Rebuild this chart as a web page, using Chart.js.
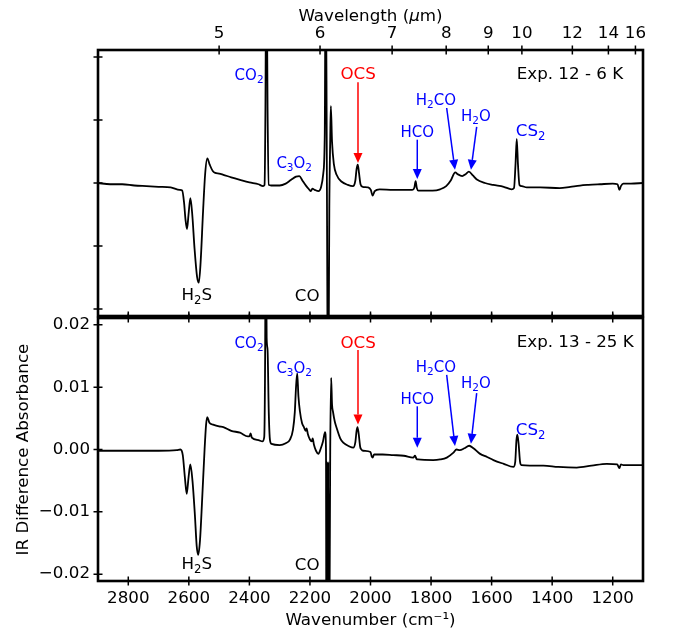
<!DOCTYPE html>
<html><head><meta charset="utf-8">
<script src="https://cdn.jsdelivr.net/npm/chart.js@4/dist/chart.umd.min.js"></script>
<style>
html,body{margin:0;padding:0;background:#fff;}
#wrap{position:relative;width:673px;height:635px;overflow:hidden;}
#cTop{position:absolute;left:0;top:0;}
#cBot{position:absolute;left:0;top:300px;}
</style></head><body>
<div id="wrap"><canvas id="cBot" width="673" height="335"></canvas><canvas id="cTop" width="673" height="318"></canvas></div>
<script>
// ---------------- data ----------------
const topWavenumber = [2900,2860,2820,2780,2740,2700,2660,2630,2622,2616,2611,2606,2601,2595,2589,2581,2573,2567,2561,2553,2546,2539,2531,2521,2513,2500,2486,2460,2431,2400,2370,2355,2350,2347,2344,2340,2336,2328,2300,2280,2262,2246,2235,2225,2212,2203,2197,2192,2184,2172,2163,2156,2151,2148,2144,2140,2136,2133,2131,2127,2121,2112,2095,2075,2058,2050,2046,2042,2038,2033,2026,2008,1999,1993,1986,1970,1925,1862,1855,1851,1847,1842,1795,1770,1750,1735,1720,1712,1697,1686,1675,1662,1650,1622,1595,1560,1534,1526,1521,1517,1513,1508,1500,1484,1440,1375,1340,1308,1280,1242,1200,1184,1178,1173,1165,1140,1100];
const topAbsorbance = [0.0000,-0.0002,-0.0002,-0.0004,-0.0005,-0.0006,-0.0007,-0.0011,-0.0012,-0.0030,-0.0058,-0.0073,-0.0050,-0.0024,-0.0048,-0.0105,-0.0148,-0.0158,-0.0125,-0.0045,0.0015,0.0039,0.0029,0.0019,0.0016,0.0015,0.0013,0.0009,0.0005,0.0001,-0.0002,-0.0005,-0.0003,0.012,0.04,0.012,-0.0003,-0.0004,-0.0004,-0.0001,0.0005,0.0010,0.0011,0.0004,-0.0005,-0.0010,-0.0013,-0.0009,-0.0011,-0.0013,-0.0006,0.0015,0.008,0.04,0.0,-0.04,-0.004,0.007,0.0122,0.0065,0.0030,0.0013,0.0002,-0.0003,-0.0005,0.0004,0.0022,0.0029,0.0016,-0.0002,-0.0006,-0.0007,-0.0011,-0.0020,-0.0013,-0.0010,-0.0011,-0.0011,-0.0007,0.0003,-0.0008,-0.0012,-0.0012,-0.0010,-0.0005,0.0004,0.0017,0.0014,0.0011,0.0014,0.0018,0.0012,0.0006,0.0000,-0.0003,-0.0006,-0.0010,-0.0008,0.0030,0.0070,0.0030,-0.0003,-0.0005,-0.0007,-0.0007,-0.0008,-0.0006,-0.0004,-0.0003,-0.0002,-0.0001,-0.0002,-0.0011,-0.0005,-0.0001,-0.0001,0.0000];

const bottomWavenumber = [2900,2800,2700,2640,2628,2620,2613,2607,2601,2595,2588,2580,2574,2569,2563,2556,2548,2543,2539,2532,2520,2500,2486,2460,2431,2405,2400,2396,2392,2370,2357,2351,2348,2346,2343,2340,2336,2332,2327,2300,2280,2266,2256,2250,2246,2242,2238,2233,2226,2220,2214,2211,2207,2200,2194,2191,2187,2180,2172,2164,2157,2150,2147,2145.5,2143.5,2141.5,2139.5,2137,2133,2130,2127,2124,2118,2112,2100,2090,2070,2057,2050,2046,2043,2039,2034,2030,2024,2000,1996,1993,1988,1960,1925,1890,1859,1853,1848,1843,1793,1770,1748,1726,1716,1705,1690,1674,1660,1638,1615,1594,1560,1528,1522,1518,1515,1511,1506,1502,1429,1380,1319,1270,1220,1185,1178,1173,1165,1130,1100];
const bottomAbsorbance = [-0.0002,-0.0002,-0.0002,-0.0001,0.0000,-0.0009,-0.0045,-0.0071,-0.0045,-0.0024,-0.0050,-0.0105,-0.0155,-0.0169,-0.0145,-0.0080,0.0000,0.0040,0.0052,0.0043,0.0040,0.0037,0.0036,0.0030,0.0027,0.0021,0.0021,0.0026,0.0019,0.0015,0.0013,0.0020,0.015,0.04,0.018,0.0160,0.0060,0.0015,0.0009,0.0007,0.0010,0.0016,0.0032,0.0060,0.0100,0.0122,0.0085,0.0061,0.0042,0.0036,0.0030,0.0034,0.0025,0.0016,0.0013,0.0018,0.0008,-0.0002,-0.0007,0.0002,0.0013,0.0028,0.0000,-0.04,-0.002,-0.04,-0.002,-0.04,0.0000,0.0115,0.0072,0.0061,0.0045,0.0035,0.0018,0.0011,0.0005,0.0003,0.0012,0.0030,0.0036,0.0025,0.0004,0.0000,-0.0002,-0.0004,-0.0011,-0.0013,-0.0008,-0.0008,-0.0009,-0.0010,-0.0013,-0.0010,-0.0015,-0.0016,-0.0017,-0.0016,-0.0013,-0.0005,0.0000,-0.0001,0.0002,0.0006,0.0002,-0.0007,-0.0012,-0.0017,-0.0023,-0.0028,-0.0020,0.0015,0.0024,0.0010,-0.0020,-0.0025,-0.0026,-0.0028,-0.0029,-0.0026,-0.0023,-0.0024,-0.0030,-0.0024,-0.0025,-0.0025,-0.0025];

const wavenumberTicks = [2800,2600,2400,2200,2000,1800,1600,1400,1200];
const wavenumberTickLabels = ['2800','2600','2400','2200','2000','1800','1600','1400','1200'];
const wavelengthTickLabels = ['5','6','7','8','9','10','12','14','16'];
const wavelengthTickWavenumbers = [2500,2166.7,1928.6,1750,1611.1,1500,1333.3,1214.3,1125];
const absorbanceTicks = [-0.02,-0.01,0,0.01,0.02];
const absorbanceTickLabels = ['\u22120.02','\u22120.01','0.00','0.01','0.02'];

// ---------------- annotations ----------------
const BLUE = '#0000ff', RED = '#ff0000', BLACK = '#000000';
const topLabels = [
  {text:'CO_2', wn:2401, ab:0.01635, color:BLUE, size:15},
  {text:'C_3O_2', wn:2252, ab:0.00238, color:BLUE, size:15},
  {text:'OCS', wn:2041, ab:0.01651, color:RED, size:16.7},
  {text:'H_2S', wn:2574, ab:-0.0186, color:BLACK, size:16.7},
  {text:'CO', wn:2209, ab:-0.0187, color:BLACK, size:16.7},
  {text:'Exp. 12 - 6 K', wn:1517, ab:0.01648, color:BLACK, size:16.7, align:'left'},
  {text:'HCO', wn:1845.5, ab:0.00725, color:BLUE, size:15},
  {text:'H_2CO', wn:1784, ab:0.01238, color:BLUE, size:15},
  {text:'H_2O', wn:1652, ab:0.00989, color:BLUE, size:15},
  {text:'CS_2', wn:1471, ab:0.00743, color:BLUE, size:16.7}
];
const topArrows = [
  {wn1:2041.3, ab1:0.01597, wn2:2041.3, ab2:0.00317, color:RED},
  {wn1:1845.5, ab1:0.00687, wn2:1845.5, ab2:0.00063, color:BLUE},
  {wn1:1748.4, ab1:0.0119, wn2:1721, ab2:0.00211, color:BLUE},
  {wn1:1649.3, ab1:0.00889, wn2:1668.2, ab2:0.00211, color:BLUE}
];
const bottomLabels = [
  {text:'CO_2', wn:2401, ab:0.01632, color:BLUE, size:15},
  {text:'C_3O_2', wn:2252, ab:0.01225, color:BLUE, size:15},
  {text:'OCS', wn:2041, ab:0.01632, color:RED, size:16.7},
  {text:'H_2S', wn:2574, ab:-0.01917, color:BLACK, size:16.7},
  {text:'CO', wn:2209, ab:-0.01927, color:BLACK, size:16.7},
  {text:'Exp. 13 - 25 K', wn:1517, ab:0.0164, color:BLACK, size:16.7, align:'left'},
  {text:'HCO', wn:1845.5, ab:0.00731, color:BLUE, size:15},
  {text:'H_2CO', wn:1784, ab:0.01245, color:BLUE, size:15},
  {text:'H_2O', wn:1652, ab:0.00995, color:BLUE, size:15},
  {text:'CS_2', wn:1471, ab:0.00232, color:BLUE, size:16.7}
];
const bottomArrows = [
  {wn1:2041.3, ab1:0.01596, wn2:2041.3, ab2:0.00401, color:RED},
  {wn1:1845.5, ab1:0.00693, wn2:1845.5, ab2:0.00029, color:BLUE},
  {wn1:1748.4, ab1:0.01197, wn2:1721, ab2:0.00056, color:BLUE},
  {wn1:1649.3, ab1:0.00904, wn2:1668.2, ab2:0.00092, color:BLUE}
];

// ---------------- helpers ----------------
const FAM = "'DejaVu Sans', sans-serif";
const X_MIN = 1100, X_MAX = 2900, Y_MIN = -0.0211, Y_MAX = 0.0211;

function parseRich(str){
  const segs=[];
  for(let i=0;i<str.length;i++){
    const c=str[i];
    if(c==='_'){segs.push({t:str[i+1],sub:true});i++;}
    else if(c==='~'){segs.push({t:str[i+1],it:true});i++;}
    else{
      const last=segs[segs.length-1];
      if(last && !last.sub && !last.it) last.t+=c; else segs.push({t:c});
    }
  }
  return segs;
}
function drawRich(ctx,str,x,y,size,color,align){
  const segs=parseRich(str);
  let w=0;
  segs.forEach(s=>{
    const fs=s.sub?size*0.7:size;
    ctx.font=(s.it?'italic ':'')+fs+'px '+FAM;
    s.w=ctx.measureText(s.t).width; s.fs=fs; w+=s.w;
  });
  let cx = align==='left'?x:(align==='right'?x-w:x-w/2);
  ctx.fillStyle=color; ctx.textBaseline='alphabetic'; ctx.textAlign='left';
  segs.forEach(s=>{
    ctx.font=(s.it?'italic ':'')+s.fs+'px '+FAM;
    ctx.fillText(s.t,cx,s.sub?y+size*0.22:y);
    cx+=s.w;
  });
}
function drawArrow(ctx,x1,y1,x2,y2,color){
  const ang=Math.atan2(y2-y1,x2-x1), HL=10, HW=4.5;
  const bx=x2-HL*Math.cos(ang), by=y2-HL*Math.sin(ang);
  ctx.strokeStyle=color; ctx.fillStyle=color; ctx.lineWidth=1.5;
  ctx.beginPath(); ctx.moveTo(x1,y1); ctx.lineTo(bx,by); ctx.stroke();
  ctx.beginPath(); ctx.moveTo(x2,y2);
  ctx.lineTo(bx+HW*Math.sin(ang),by-HW*Math.cos(ang));
  ctx.lineTo(bx-HW*Math.sin(ang),by+HW*Math.cos(ang));
  ctx.closePath(); ctx.fill();
}
function panelPlugin(topScaleId, labels, arrows, extra){
  return {
    id:'panel',
    afterDatasetsDraw(chart){
      const ctx=chart.ctx, a=chart.chartArea, L=4.5;
      const xs=chart.scales.x, ys=chart.scales.y, ts=chart.scales[topScaleId];
      ctx.save();
      ctx.strokeStyle='#000'; ctx.lineWidth=1.5;
      ctx.beginPath();
      ts.ticks.forEach(t=>{const p=ts.getPixelForValue(t.value);ctx.moveTo(p,a.top-L);ctx.lineTo(p,a.top+L);});
      xs.ticks.forEach(t=>{const p=xs.getPixelForValue(t.value);ctx.moveTo(p,a.bottom-L);ctx.lineTo(p,a.bottom+L);});
      ys.ticks.forEach(t=>{const p=ys.getPixelForValue(t.value);ctx.moveTo(a.left-L,p);ctx.lineTo(a.left+L,p);});
      ctx.stroke();
      ctx.lineWidth=2.6;
      ctx.strokeRect(a.left,a.top,a.right-a.left,a.bottom-a.top);
      labels.forEach(l=>{
        drawRich(ctx,l.text,xs.getPixelForValue(l.wn),ys.getPixelForValue(l.ab),l.size,l.color,l.align||'center');
      });
      arrows.forEach(r=>{
        drawArrow(ctx,xs.getPixelForValue(r.wn1),ys.getPixelForValue(r.ab1),xs.getPixelForValue(r.wn2),ys.getPixelForValue(r.ab2),r.color);
      });
      if(extra) extra(chart);
      ctx.restore();
    }
  };
}
function points(wn,ab){return wn.map((v,i)=>({x:v,y:ab[i]}));}
function lineDataset(wn,ab){
  return {data:points(wn,ab),showLine:true,borderColor:'#000',borderWidth:1.8,pointRadius:0,
          cubicInterpolationMode:'monotone',fill:false};
}
const tickFont={family:FAM,size:16.7};
const noGrid={display:false,drawTicks:false};
Chart.defaults.font.family=FAM;
Chart.defaults.color='#000';

// ---------------- top panel ----------------
new Chart(document.getElementById('cTop'),{
  type:'scatter',
  data:{datasets:[lineDataset(topWavenumber,topAbsorbance)]},
  options:{
    responsive:false,animation:false,devicePixelRatio:1,
    layout:{padding:{left:0,right:30,top:0,bottom:0}},
    plugins:{legend:{display:false},tooltip:{enabled:false}},
    scales:{
      x:{type:'linear',position:'bottom',min:X_MIN,max:X_MAX,reverse:true,
         afterBuildTicks:s=>{s.ticks=wavenumberTicks.map(v=>({value:v}));},
         ticks:{display:false},grid:noGrid,border:{display:false},
         afterFit:s=>{s.height=2;}},
      xTop:{type:'linear',position:'top',min:X_MIN,max:X_MAX,reverse:true,
         afterBuildTicks:s=>{s.ticks=wavelengthTickWavenumbers.map(v=>({value:v}));},
         ticks:{autoSkip:false,maxRotation:0,padding:6,color:'#000',font:tickFont,
                callback:(v,i)=>wavelengthTickLabels[i]},
         grid:noGrid,border:{display:false},
         afterFit:s=>{s.height=50;}},
      y:{type:'linear',position:'left',min:Y_MIN,max:Y_MAX,
         afterBuildTicks:s=>{s.ticks=absorbanceTicks.map(v=>({value:v}));},
         ticks:{display:false},grid:noGrid,border:{display:false},
         afterFit:s=>{s.width=98;}}
    }
  },
  plugins:[panelPlugin('xTop',topLabels,topArrows,(chart)=>{
    const a=chart.chartArea;
    drawRich(chart.ctx,'Wavelength (~\u03bcm)',(a.left+a.right)/2,20.5,16.7,'#000','center');
  })]
});

// ---------------- bottom panel ----------------
new Chart(document.getElementById('cBot'),{
  type:'scatter',
  data:{datasets:[lineDataset(bottomWavenumber,bottomAbsorbance)]},
  options:{
    responsive:false,animation:false,devicePixelRatio:1,
    layout:{padding:{left:0,right:30,top:16,bottom:0}},
    plugins:{legend:{display:false},tooltip:{enabled:false}},
    scales:{
      x:{type:'linear',position:'bottom',min:X_MIN,max:X_MAX,reverse:true,
         afterBuildTicks:s=>{s.ticks=wavenumberTicks.map(v=>({value:v}));},
         ticks:{autoSkip:false,maxRotation:0,padding:8,color:'#000',font:tickFont,
                callback:(v,i)=>wavenumberTickLabels[i]},
         grid:noGrid,border:{display:false},
         title:{display:true,text:'Wavenumber (cm\u207b\u00b9)',color:'#000',font:tickFont,padding:{top:0,bottom:4}},
         afterFit:s=>{s.height=54;}},
      y:{type:'linear',position:'left',min:Y_MIN,max:Y_MAX,
         afterBuildTicks:s=>{s.ticks=absorbanceTicks.map(v=>({value:v}));},
         ticks:{padding:8,color:'#000',font:tickFont,callback:(v,i)=>absorbanceTickLabels[i]},
         grid:noGrid,border:{display:false},
         title:{display:true,text:'IR Difference Absorbance',color:'#000',font:tickFont,padding:{top:14,bottom:0}},
         afterFit:s=>{s.width=98;}}
    }
  },
  plugins:[panelPlugin('x',bottomLabels,bottomArrows,null)]
});
</script>
</body></html>
